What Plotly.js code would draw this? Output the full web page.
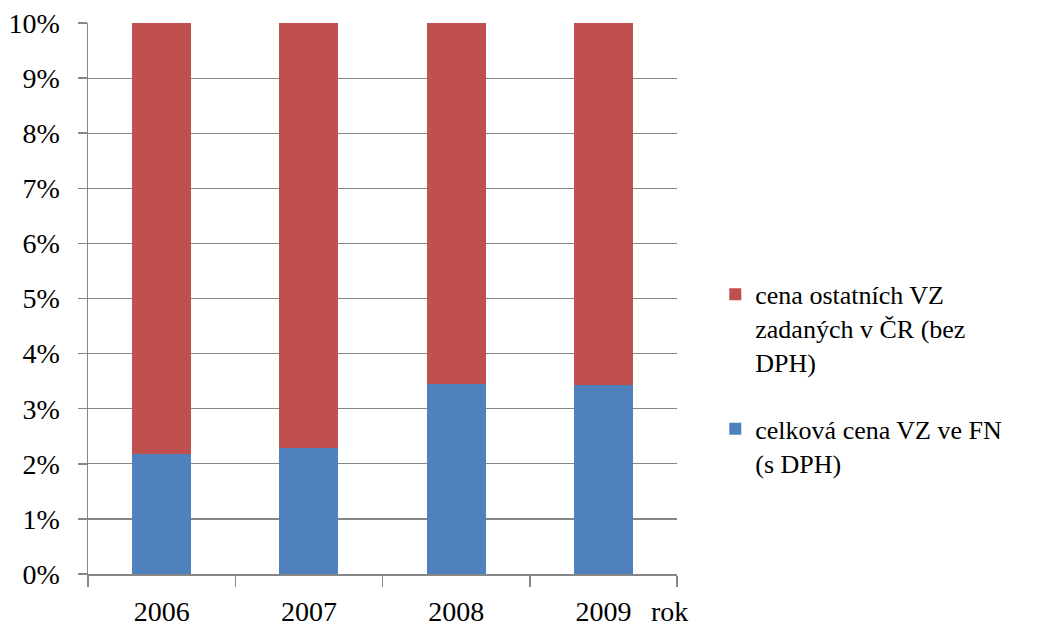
<!DOCTYPE html>
<html>
<head>
<meta charset="utf-8">
<script src="https://cdn.plot.ly/plotly-3.0.1.min.js"></script>
<style>
html,body{margin:0;padding:0;background:#fff;}
#chart{width:1037px;height:629px;}
</style>
</head>
<body>
<div id="chart"></div>
<script>
const years = ["2006", "2007", "2008", "2009"];
const fnShare = [2.17, 2.28, 3.45, 3.43];          // celková cena VZ ve FN (s DPH), %
const otherShare = [97.83, 97.72, 96.55, 96.57];   // cena ostatních VZ zadaných v ČR (bez DPH), %
const nameFN = "celková cena VZ ve FN<br>(s DPH)";
const nameOther = "cena ostatních VZ<br>zadaných v ČR (bez<br>DPH)";
const xLabel = "rok";

const serif = "Liberation Serif";
const grid = "#868686";

const data = [
  {type: "bar", x: years, y: fnShare, name: nameFN, legendgroup: "fn", legendrank: 2, marker: {color: "#4F81BD"}},
  {type: "bar", x: years, y: otherShare, name: nameOther, legendgroup: "other", legendrank: 1, marker: {color: "#C0504D"}}
];

const layout = {
  width: 1037, height: 629,
  margin: {l: 88, r: 360, t: 23, b: 55},
  barmode: "stack",
  bargap: 0.6,
  paper_bgcolor: "#fff", plot_bgcolor: "#fff",
  font: {family: serif, size: 28, color: "#000"},
  showlegend: true,
  legend: {
    x: 1.065, xanchor: "left", y: 0.55, yanchor: "top",
    traceorder: "grouped", tracegroupgap: 30, valign: "top",
    font: {family: serif, size: 26, color: "#000"},
    itemwidth: 30, bgcolor: "rgba(0,0,0,0)"
  },
  xaxis: {
    type: "category", tickson: "boundaries",
    ticks: "outside", ticklen: 11, tickwidth: 1.5, tickcolor: grid,
    showline: true, linecolor: grid, linewidth: 1.5,
    showgrid: false, ticklabelstandoff: 12,
    tickfont: {family: serif, size: 28, color: "#000"}
  },
  yaxis: {
    range: [0, 10], dtick: 1, ticksuffix: "%",
    ticks: "outside", ticklen: 9, tickwidth: 1.5, tickcolor: grid,
    showline: true, linecolor: grid, linewidth: 1.5,
    showgrid: true, gridcolor: grid, gridwidth: 1.2,
    zeroline: false, ticklabelstandoff: 12,
    tickfont: {family: serif, size: 28, color: "#000"}
  },
  annotations: [{
    text: xLabel, xref: "paper", yref: "paper", x: 0.952, y: -0.0995,
    xanchor: "left", yanchor: "bottom", showarrow: false,
    font: {family: serif, size: 28, color: "#000"}
  }]
};

Plotly.newPlot("chart", data, layout, {displayModeBar: false, staticPlot: true});
</script>
</body>
</html>
